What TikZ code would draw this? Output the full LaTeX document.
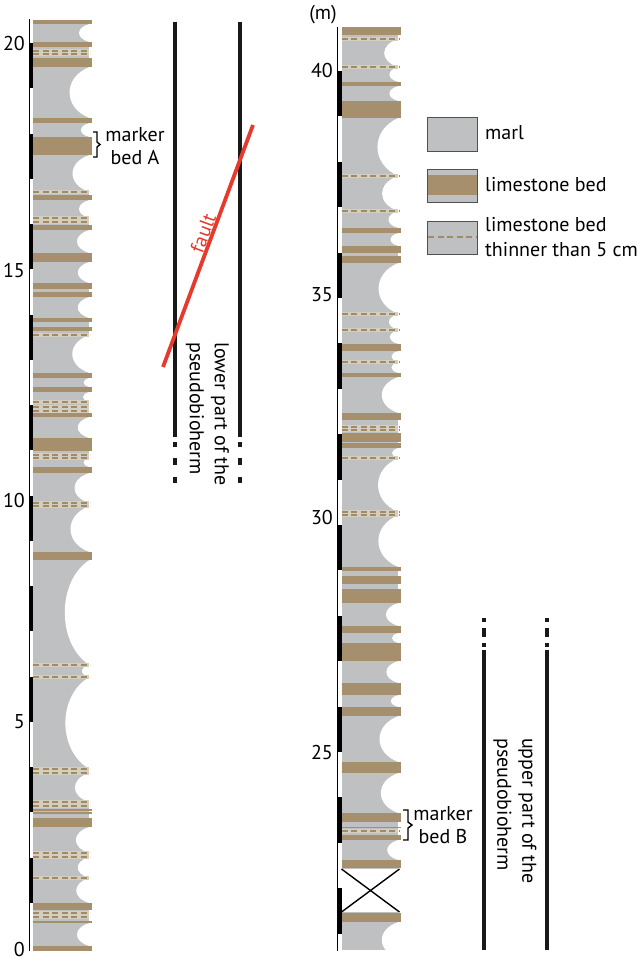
\documentclass[tikz,border=0pt]{standalone}
\usepackage{fontspec}
\setmainfont{PT Sans}
\definecolor{marl}{RGB}{191,192,194}
\definecolor{lime}{RGB}{166,143,108}
\definecolor{thinc}{RGB}{160,139,102}
\definecolor{pale}{RGB}{212,206,190}
\definecolor{faultred}{RGB}{230,58,44}
\definecolor{boxgray}{RGB}{80,80,80}
\begin{document}
\begin{tikzpicture}[x=1pt,y=-1pt,
  txt/.style={font=\fontsize{20}{24}\selectfont, inner sep=0pt},
  twoline/.style={font=\fontsize{20}{25}\selectfont, inner sep=0pt, align=left},
  thinbed/.style={draw=thinc, line width=2pt, dash pattern=on 6pt off 3.5pt},
  paleband/.style={draw=pale, line width=3.2pt},
  vline/.style={line width=3.6pt, black!90},
  faultline/.style={line width=3.8pt, faultred},
  legbox/.style={draw=boxgray, line width=1pt},
  bracepath/.style={line width=1.4pt, black}]
\useasboundingbox (0,0) rectangle (640,962);

% ---------------- left column ----------------
\fill[marl] (33,20) rectangle (89,951);
\foreach \a/\b in {24/42,67/118,123/137,155/192,200/218,230/253,262/283,297/318,335/373,378/387,392/402,417/438,458/467,473/503,506/552,560/665,665/677,677/769,773/802,827/853,857/878,878/903,923/946}{
  \pgfmathsetmacro\dd{26*(1-exp(-(\b-\a)/35))}
  \pgfmathsetmacro\cc{89.5-4/3*\dd}
  \pgfmathsetmacro\ya{\a+0.2*(\b-\a)}
  \pgfmathsetmacro\yb{\b-0.2*(\b-\a)}
  \fill[white] (89.5,\a) .. controls (\cc,\ya) and (\cc,\yb) .. (89.5,\b) -- (95,\b) -- (95,\a) -- cycle;
}
\foreach \y in {51,54,192,218,222,335,402,407,411,455,458,503,506,665,677,769,773,802,806,853,857,878,913,917}{
  \draw[paleband] (33,\y) -- (89,\y);
  \draw[thinbed] (33,\y) -- (90,\y);
}
\foreach \a/\b in {20/24,42/47,58/67,118/123,137/155,195/200,225/230,253/262,283/289,292/297,318/322,327/331,373/378,387/392,413/417,438/451,467/473,552/560,809/811,812/814,818/827,903/910,921/923,946/951}{
  \fill[lime] (33,\a) rectangle (92,\b);
}
% scale left
\draw[line width=0.9pt] (29.5,19) -- (29.5,951);
\foreach \k in {0,...,9}{
  \fill (29,{948-45.25*(2*\k+1)}) rectangle (33,{948-45.25*(2*\k+2)});
}
\node[txt, anchor=east] (l20) at (25,43) {20};
\node[txt, anchor=east] (l15) at (25,270) {15};
\node[txt, anchor=east] (l10) at (25,500) {10};
\node[txt, anchor=east] (l5) at (25,722) {5};
\node[txt, anchor=east] (l0) at (25,949) {0};

% marker bed A
\draw[bracepath] (93,132) -- (97,132) -- (97,142) -- (100,144.5) -- (97,147) -- (97,157) -- (93,157);
\node[twoline, align=center, font=\fontsize{20}{23}\selectfont] (markA) at (135,146) {marker\\bed A};

% lower part of the pseudobioherm
\draw[vline] (175,22) -- (175,437);
\draw[vline] (240,22) -- (240,437);
\foreach \x in {175,240}{
  \draw[vline] (\x,442) -- (\x,447);
  \draw[vline] (\x,458) -- (\x,465);
  \draw[vline] (\x,477) -- (\x,483);
}
\node[twoline, rotate=-90, anchor=west] (lowertxt) at (207.5,342) {lower part of the\\pseudobioherm};

% fault
\draw[faultline] (163,367) -- (253,125);
\node[txt, text=faultred, rotate=69.6] (faulttxt) at (203,233) {fault};

% ---------------- right column ----------------
\fill[marl] (341.5,27) rectangle (398,869);
\fill[marl] (341.5,912) rectangle (398,950);
\foreach \a/\b in {39/67,67/82,86/101,118/176,176/211,211/228,233/246,263/314,314/330,330/344,351/362,362/373,377/413,448/458,458/512,515/567,603/626,633/643,661/683,695/707,716/762,773/813,840/860,922/958}{
  \pgfmathsetmacro\dd{26*(1-exp(-(\b-\a)/35))}
  \pgfmathsetmacro\cc{398.5-4/3*\dd}
  \pgfmathsetmacro\ya{\a+0.2*(\b-\a)}
  \pgfmathsetmacro\yb{\b-0.2*(\b-\a)}
  \fill[white] (398.5,\a) .. controls (\cc,\ya) and (\cc,\yb) .. (398.5,\b) -- (404,\b) -- (404,\a) -- cycle;
}
\fill[white] (380,950) rectangle (404,962);
\foreach \y in {39,67,176,211,314,330,362,427,430,458,512,515,831}{
  \draw[paleband] (341.5,\y) -- (398,\y);
  \draw[thinbed] (341.5,\y) -- (399,\y);
}
\foreach \a/\b in {27/35,82/86,101/118,228/233,246/253,256/263,344/351,373/377,413/420,433/442,443/448,567/571,576/584,589/603,626/633,643/661,683/695,707/716,762/773,813/822,826.5/828,835/840,860/868,913/922}{
  \fill[lime] (341.5,\a) rectangle (401,\b);
}
% covered interval
\coordinate (xa) at (341.5,869);
\coordinate (xb) at (399.5,912);
\coordinate (xc) at (341.5,912);
\coordinate (xd) at (399.5,869);
\draw[line width=1.4pt] (xa) -- (xb);
\draw[line width=1.4pt] (xc) -- (xd);
% scale right
\draw[line width=0.9pt] (337.7,27) -- (337.7,951);
\foreach \m in {21,23,...,39}{
  \fill (337.2,{752-45.4*(\m-25)}) rectangle (341.5,{752-45.4*(\m+1-25)});
}
\node[txt] (munit) at (323,15) {(m)};
\node[txt, anchor=east] (r40) at (333,70) {40};
\node[txt, anchor=east] (r35) at (333,295) {35};
\node[txt, anchor=east] (r30) at (333,517) {30};
\node[txt, anchor=east] (r25) at (333,752) {25};

% marker bed B
\draw[bracepath] (403,810) -- (408,810) -- (408,822) -- (412,825) -- (408,828) -- (408,840) -- (403,840);
\node[twoline, align=center, font=\fontsize{20}{23}\selectfont] (markB) at (443,825) {marker\\bed B};

% upper part of the pseudobioherm
\draw[vline] (484,650) -- (484,950);
\draw[vline] (547,650) -- (547,950);
\foreach \x in {484,547}{
  \draw[vline] (\x,618) -- (\x,622);
  \draw[vline] (\x,628) -- (\x,637);
  \draw[vline] (\x,643) -- (\x,647);
}
\node[twoline, rotate=-90, anchor=west] (uppertxt) at (515,738) {upper part of the\\pseudobioherm};

% ---------------- legend ----------------
\draw[legbox, fill=marl] (427,117) rectangle (477,151);
\fill[marl] (427,169) rectangle (477,202);
\fill[lime] (427,175) rectangle (477,195);
\draw[legbox] (427,169) rectangle (477,202);
\draw[legbox, fill=marl] (427,221) rectangle (477,254);
\draw[thinbed] (428,237) -- (476,237);
\node[txt, anchor=west] (legmarl) at (485,133) {marl};
\node[txt, anchor=west] (leglime) at (485,185) {limestone bed};
\node[twoline, anchor=west] (legthin) at (485,237) {limestone bed\\thinner than 5 cm};
\end{tikzpicture}
\end{document}
